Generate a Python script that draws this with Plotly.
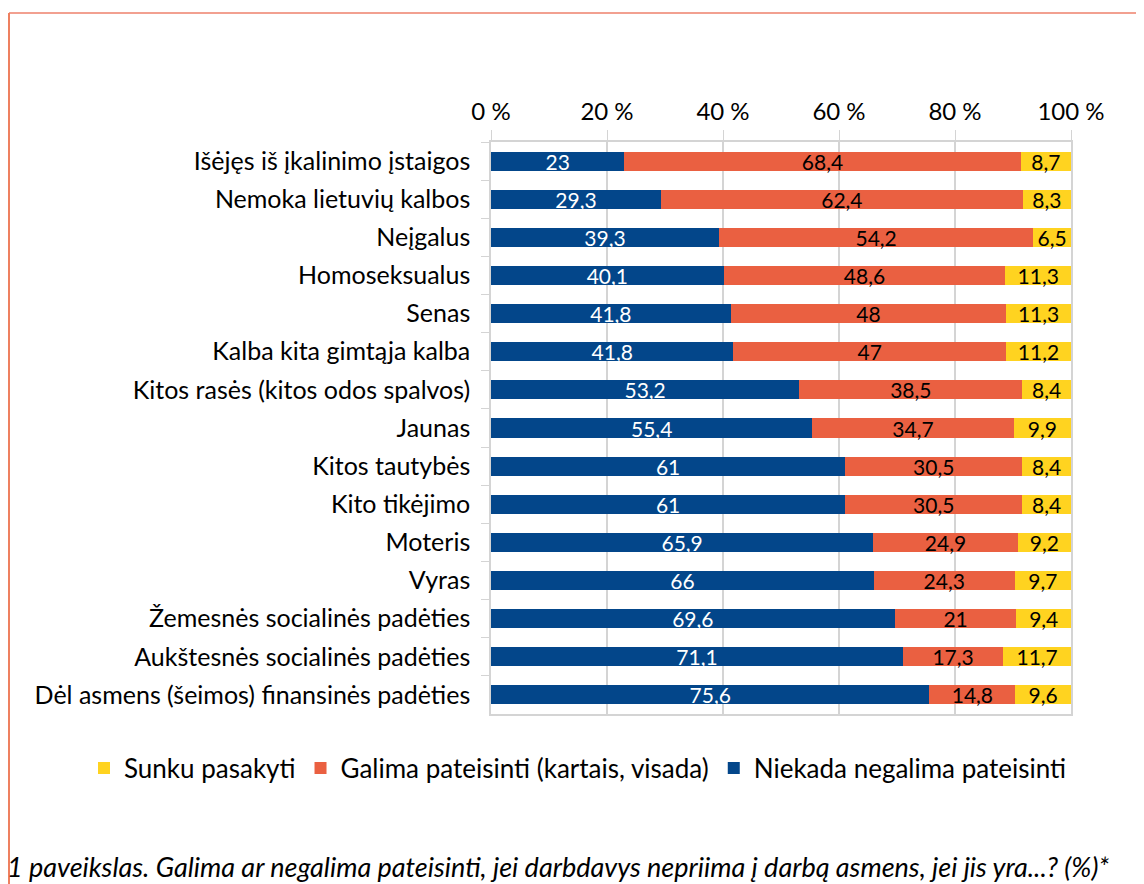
import plotly.graph_objects as go

categories = [
    "Išėjęs iš įkalinimo įstaigos",
    "Nemoka lietuvių kalbos",
    "Neįgalus",
    "Homoseksualus",
    "Senas",
    "Kalba kita gimtąja kalba",
    "Kitos rasės (kitos odos spalvos)",
    "Jaunas",
    "Kitos tautybės",
    "Kito tikėjimo",
    "Moteris",
    "Vyras",
    "Žemesnės socialinės padėties",
    "Aukštesnės socialinės padėties",
    "Dėl asmens (šeimos) finansinės padėties",
]
niekada = [23, 29.3, 39.3, 40.1, 41.8, 41.8, 53.2, 55.4, 61, 61, 65.9, 66, 69.6, 71.1, 75.6]
galima = [68.4, 62.4, 54.2, 48.6, 48, 47, 38.5, 34.7, 30.5, 30.5, 24.9, 24.3, 21, 17.3, 14.8]
sunku = [8.7, 8.3, 6.5, 11.3, 11.3, 11.2, 8.4, 9.9, 8.4, 8.4, 9.2, 9.7, 9.4, 11.7, 9.6]

series_names = ["Niekada negalima pateisinti", "Galima pateisinti (kartais, visada)", "Sunku pasakyti"]
colors = ["#03468A", "#EA6041", "#FFD320"]
label_colors = ["white", "black", "black"]
caption = "1 paveikslas. Galima ar negalima pateisinti, jei darbdavys nepriima į darbą asmens, jei jis yra...? (%)*"

FONT = "Lato"

def fmt(v):
    return ("%g" % v).replace(".", ",")

fig = go.Figure()
for name, vals, col, lc in zip(series_names, [niekada, galima, sunku], colors, label_colors):
    fig.add_trace(go.Bar(
        y=categories, x=vals, name=name, orientation="h",
        marker=dict(color=col, line=dict(width=0)),
        text=[fmt(v) for v in vals], textposition="inside",
        insidetextanchor="middle", constraintext="none", textangle=0,
        textfont=dict(color=lc, size=21, family=FONT),
        hoverinfo="skip",
    ))

OFF = 8  # page body margin
W, H = 1144 - OFF, 884 - OFF
# plot-area edges in page pixels
PL, PR, PT, PB = 491, 1071, 142, 714
L, R, T, B = PL - OFF, W - (PR - OFF), PT - OFF, H - (PB - OFF)
pw, ph = W - L - R, H - T - B

def px(x):  # page x -> paper
    return (x - PL) / pw

def py(y):  # page y -> paper
    return (PB - y) / ph

fig.update_layout(
    width=W, height=H,
    barmode="stack", barnorm="percent", bargap=0.5,
    margin=dict(l=L, r=R, t=T, b=B, autoexpand=False),
    paper_bgcolor="white", plot_bgcolor="white",
    font=dict(family=FONT, size=24, color="black"),
    legend=dict(orientation="h", traceorder="reversed",
                x=px(84), y=py(768),
                xanchor="left", yanchor="middle", font=dict(size=26, family=FONT),
                itemwidth=30, tracegroupgap=0),
    showlegend=True,
    xaxis=dict(side="top", range=[0, 100], dtick=20, ticksuffix=" %",
               showgrid=True, gridcolor="#D4D4D4", gridwidth=1.5,
               ticks="outside", ticklen=10, tickcolor="#D4D4D4",
               showline=True, mirror=True, linecolor="#D4D4D4", linewidth=1.5,
               zeroline=False, tickfont=dict(size=24, family=FONT), fixedrange=True,
               ticklabelstandoff=1, automargin=False),
    yaxis=dict(autorange="reversed", tickson="boundaries", ticks="outside", ticklen=8,
               tickcolor="#D4D4D4", showgrid=False, showline=True, mirror=True,
               linecolor="#D4D4D4", linewidth=1.5, ticklabelstandoff=14,
               tickfont=dict(size=25, family=FONT), fixedrange=True, automargin=False),
)

fig.add_annotation(text=caption, xref="paper", yref="paper", x=px(5), y=py(866),
                   xanchor="left", yanchor="middle", showarrow=False,
                   font=dict(size=27, family=FONT, style="italic"))

# chart border (top and left visible)
fig.add_shape(type="line", xref="paper", yref="paper", x0=px(9), x1=px(1160),
              y0=py(13), y1=py(13), line=dict(color="#F2A090", width=2))
fig.add_shape(type="line", xref="paper", yref="paper", x0=px(9), x1=px(9),
              y0=py(13), y1=py(900), line=dict(color="#EE8060", width=2))

fig.write_html("out.html")
